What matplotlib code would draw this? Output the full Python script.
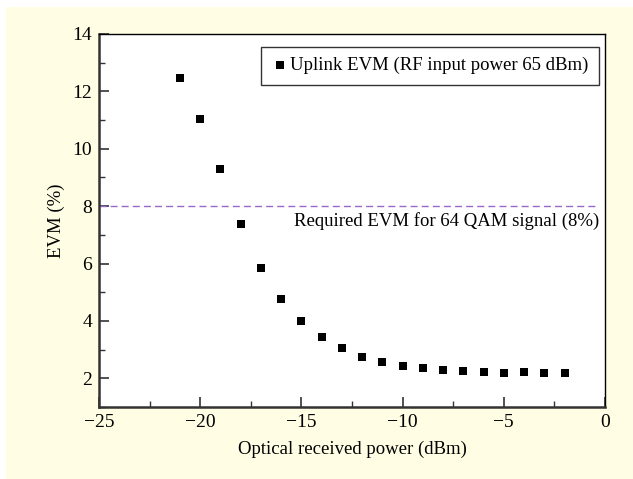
import matplotlib
matplotlib.use('Agg')
import matplotlib.pyplot as plt
from matplotlib.patches import Rectangle
from matplotlib.ticker import MultipleLocator

# uplink EVM vs optical received power
power_dbm = [-21, -20, -19, -18, -17, -16, -15, -14, -13, -12,
             -11, -10, -9, -8, -7, -6, -5, -4, -3, -2]
evm_pct = [12.46, 11.04, 9.29, 7.38, 5.84, 4.76, 4.0, 3.45, 3.05, 2.76,
           2.56, 2.44, 2.35, 2.29, 2.26, 2.21, 2.2, 2.21, 2.18, 2.19]
evm_limit = 8

plt.rcParams['font.family'] = ['Liberation Serif', 'DejaVu Serif']

fig = plt.figure(figsize=(6.33, 4.79), dpi=100, facecolor='white')
W, H = 633, 479
fig.patches.append(Rectangle((6 / W, 0), 1 - 6 / W, 1 - 7 / H,
                             transform=fig.transFigure, facecolor='#fffde3',
                             edgecolor='none', zorder=-10))

ax = fig.add_axes([99 / W, 1 - 407 / H, 506 / W, 373 / H])
ax.set_facecolor('white')

ax.scatter(power_dbm, evm_pct, marker='s', s=36, color='black',
           linewidths=0, zorder=3, label='Uplink EVM (RF input power 65 dBm)')
ax.plot([-25, -0.3], [evm_limit, evm_limit], linestyle=(0, (5, 3)),
        color='#9966cc', linewidth=1.0, zorder=2)
ax.text(-0.3, 7.47, 'Required EVM for 64 QAM signal (8%)', ha='right',
        va='center', fontsize=13.5)

ax.set_xlim(-25, 0)
ax.set_ylim(1, 14)
ax.xaxis.set_minor_locator(MultipleLocator(2.5))
ax.yaxis.set_major_locator(MultipleLocator(2))
ax.yaxis.set_minor_locator(MultipleLocator(1))
ax.set_xticks([-25, -20, -15, -10, -5, 0])
ax.set_xticklabels(['\u221225', '\u221220', '\u221215', '\u221210', '\u22125', '0'])

ax.tick_params(which='both', direction='in', top=False, right=False,
               labelsize=14, color='#333333')
ax.tick_params(which='major', length=7, width=1.2, pad=5)
ax.tick_params(which='minor', length=4, width=1.0)

for side in ('left', 'bottom'):
    ax.spines[side].set_linewidth(1.8)
    ax.spines[side].set_color('#333333')
for side in ('top', 'right'):
    ax.spines[side].set_linewidth(1.0)
    ax.spines[side].set_color('black')

ax.set_xlabel('Optical received power (dBm)', fontsize=13.5, labelpad=7)
ax.set_ylabel('EVM (%)', fontsize=13.5, labelpad=5)

leg = ax.legend(loc='upper right', bbox_to_anchor=(0.988, 0.966), fontsize=13.5,
                frameon=True, fancybox=False, handletextpad=0.1,
                handlelength=0.9, borderpad=0.55, borderaxespad=0.0)
leg.get_frame().set_edgecolor('black')
leg.get_frame().set_linewidth(1.0)

fig.savefig('out.png', dpi=100, facecolor=fig.get_facecolor())
